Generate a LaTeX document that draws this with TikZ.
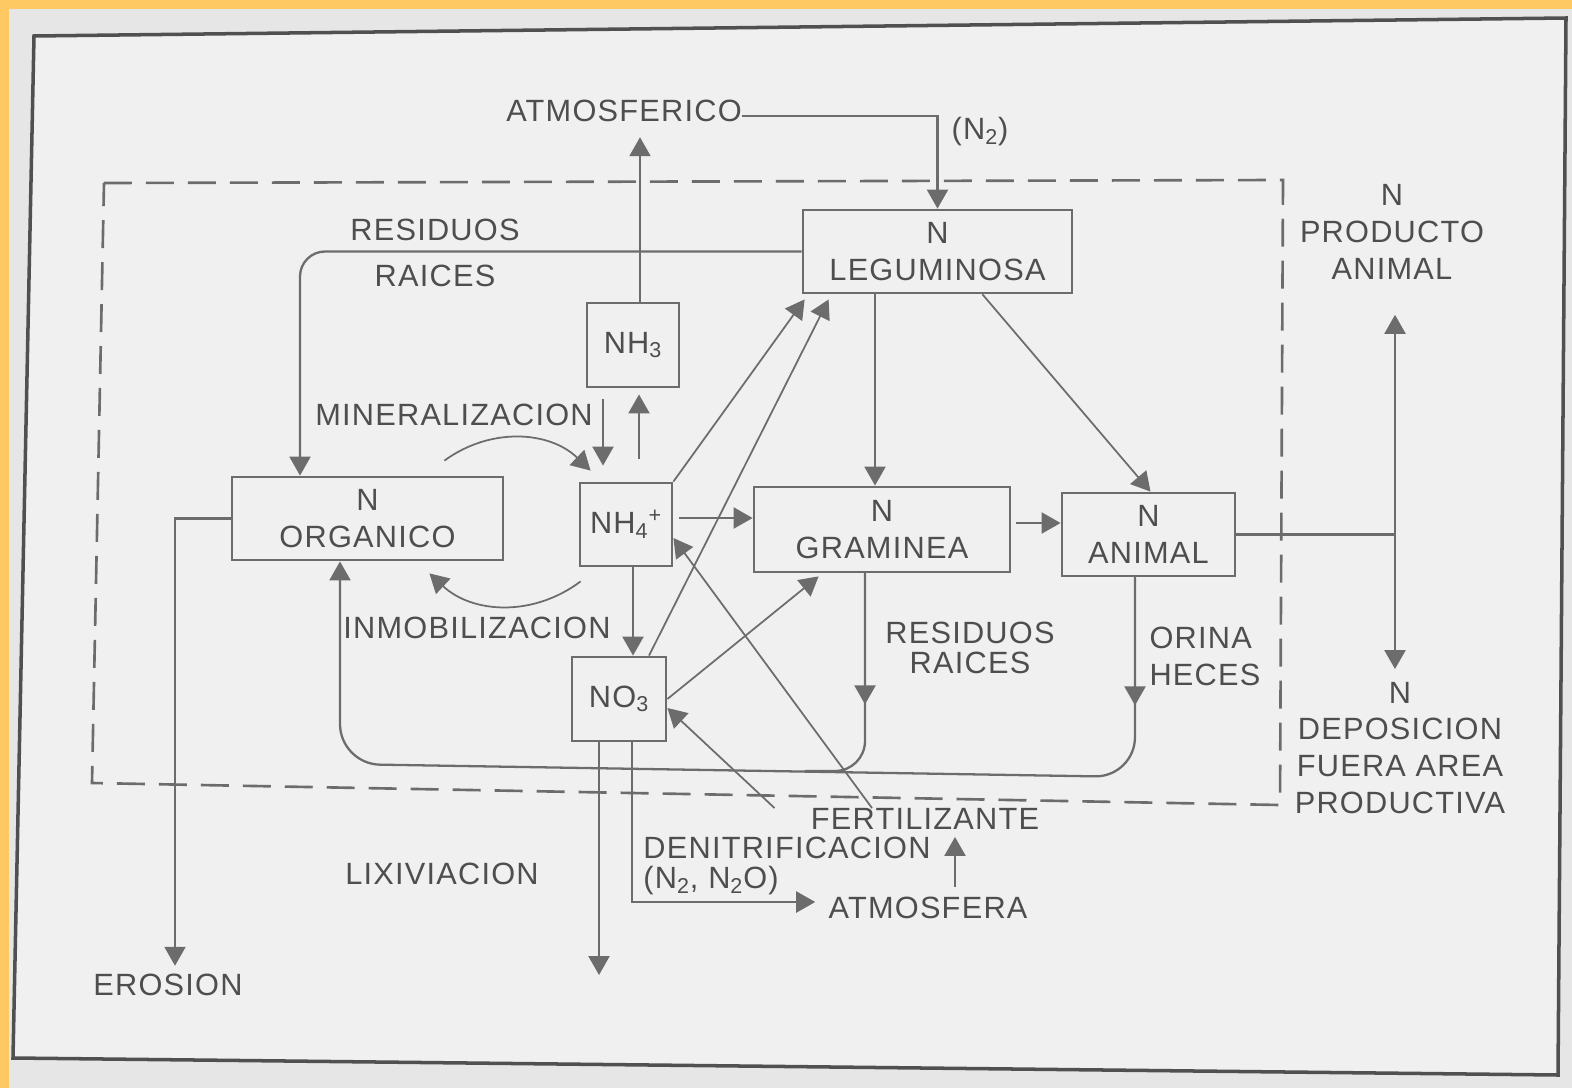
\documentclass[tikz,border=0pt]{standalone}
\usepackage{fontspec}
\setmainfont{Liberation Sans}[LetterSpace=4]
\usetikzlibrary{arrows.meta}
\definecolor{ylw}{RGB}{254,200,98}
\definecolor{papr}{RGB}{230,230,230}
\definecolor{lpapr}{RGB}{240,240,240}
\definecolor{dgry}{RGB}{108,108,108}
\definecolor{fgry}{RGB}{80,80,80}
\definecolor{tgry}{RGB}{78,78,78}
\tikzstyle{box}=[draw=dgry, line width=1.6pt, inner sep=0pt, align=center, text=tgry]
\tikzstyle{lbl}=[inner sep=0pt, align=center, text=tgry]
\tikzstyle{link}=[draw=dgry, line width=1.3pt]
\tikzstyle{flow}=[link, -{Triangle[length=0.38cm,width=0.42cm]}]
\tikzstyle{thin flow}=[flow, line width=1pt]

\begin{document}
\begin{tikzpicture}[x=0.02cm, y=-0.02cm,
    font=\fontsize{17.5}{21}\selectfont,
    area/.style={draw=dgry, line width=1.5pt, dash pattern=on 0.56cm off 0.28cm},
]
    \useasboundingbox (0,0) rectangle (1572,1088);
    % photo and page frame
    \fill[papr] (0,0) rectangle (1572,1088);
    \fill[ylw] (0,0) rectangle (1572,9);
    \fill[ylw] (0,0) rectangle (9,1088);
    \fill[lpapr] (34,36) -- (1566,18) -- (1558,1075) -- (13,1058) -- cycle;
    \draw[fgry, line width=2pt] (34,36) -- (1566,18) -- (1558,1075) -- (13,1058) -- cycle;
    % productive area
    \draw[area] (104,183) -- (1283,180) -- (1280,805) -- (92,783) -- cycle;

    % pools
    \node[box, minimum width=5.38cm, minimum height=1.66cm] (leg) at (937.5,251.5) {N\\LEGUMINOSA};
    \node[box, minimum width=1.84cm, minimum height=1.68cm] (nh3) at (633,345) {NH\textsubscript{3}};
    \node[box, minimum width=1.84cm, minimum height=1.66cm] (nh4) at (626,524.5) {NH\textsubscript{4}\textsuperscript{+}};
    \node[box, minimum width=5.42cm, minimum height=1.66cm] (org) at (367.5,518.5) {N\\ORGANICO};
    \node[box, minimum width=5.12cm, minimum height=1.7cm] (gra) at (882,529.5) {N\\GRAMINEA};
    \node[box, minimum width=3.46cm, minimum height=1.66cm] (ani) at (1148.5,534.5) {N\\ANIMAL};
    \node[box, minimum width=1.88cm, minimum height=1.68cm] (no3) at (619,699) {NO\textsubscript{3}};

    % labels
    \node[lbl] (atmo) at (624,111) {ATMOSFERICO};
    \node[lbl] (n2) at (980,132) {(N\textsubscript{2})};
    \node[lbl] (resl) at (435,253) {RESIDUOS\\[5pt]RAICES};
    \node[lbl] (miner) at (454,415) {MINERALIZACION};
    \node[lbl] (inmob) at (477,628) {INMOBILIZACION};
    \node[lbl] (resg) at (970,648) {RESIDUOS\\[-3.5pt]RAICES};
    \node[lbl, align=left] (orina) at (1205,656) {ORINA\\HECES};
    \node[lbl] (prod) at (1392,232) {N\\PRODUCTO\\ANIMAL};
    \node[lbl] (depo) at (1400,748) {N\\DEPOSICION\\FUERA AREA\\PRODUCTIVA};
    \node[lbl] (lixi) at (442,874) {LIXIVIACION};
    \node[lbl] (eros) at (168,985) {EROSION};
    \node[lbl, align=left] (denit) at (787,866) {DENITRIFICACION\\[-4pt](N\textsubscript{2}, N\textsubscript{2}O)};
    \node[lbl] (atmos) at (928,908) {ATMOSFERA};
    \node[lbl] (fert) at (925,819) {FERTILIZANTE};

    \coordinate (lix) at (599,975);
    \coordinate (junc) at (1395,535);
    \coordinate (resb) at (865,771);
    \coordinate (orib) at (1135,777);
    \coordinate (orgb) at (340,764);

    % fixation and volatilisation
    \draw[flow] ([yshift=-0.1cm]atmo.east) -| (leg.north);
    \draw[flow, shorten >=0.3cm] ([xshift=0.14cm]nh3.north) -- ([xshift=0.14cm]nh3.north |- atmo.south);
    \draw[flow, rounded corners=0.5cm] (leg.west) -| ([xshift=-1.35cm]org.north);

    % soil cycle
    \draw[thin flow] ([shift={(-1.2cm,0.3cm)}]org.north east) to[bend left=40] ([shift={(0.24cm,0.22cm)}]nh4.north west);
    \draw[thin flow] ([shift={(0.04cm,-0.28cm)}]nh4.south west) to[bend left=40] ([shift={(-1.5cm,-0.24cm)}]org.south east);
    \draw[flow, shorten <=0.22cm, shorten >=0.32cm] ([xshift=-0.6cm]nh3.south) -- ([xshift=-0.6cm]nh3.south |- nh4.north);
    \draw[flow, shorten <=0.46cm, shorten >=0.12cm] ([xshift=0.26cm]nh4.north) -- ([xshift=0.26cm]nh4.north |- nh3.south);
    \draw[flow] ([xshift=0.14cm]nh4.south) -- ([xshift=0.14cm]nh4.south |- no3.north);

    % uptake
    \draw[flow, shorten <=0.12cm] ([yshift=0.13cm]nh4.east) -- ([yshift=0.13cm]nh4.east -| gra.west);
    \draw[thin flow] (nh4.north east) -- ([shift={(0.06cm,-0.1cm)}]leg.south west);
    \draw[thin flow] ([xshift=0.6cm]no3.north) -- ([shift={(0.54cm,-0.1cm)}]leg.south west);
    \draw[thin flow] (no3.east) -- ([shift={(1.32cm,-0.06cm)}]gra.south west);

    % fertiliser
    \draw[thin flow] ([xshift=-0.72cm]fert.north west) -- ([yshift=-0.18cm]no3.east);
    \draw[thin flow] ([xshift=-1.06cm]fert.north) -- ([yshift=-0.27cm]nh4.east);
    \draw[flow, shorten <=0.2cm, shorten >=0.14cm] ([xshift=0.54cm]atmos.north) -- ([xshift=0.54cm]atmos.north |- fert.south);

    % losses
    \draw[flow, shorten >=0.26cm] ([xshift=0.26cm]no3.south) |- ([yshift=0.12cm]atmos.west);
    \draw[flow] (no3.south -| lix) -- (lix);
    \draw[flow, shorten >=0.16cm] (org.west) -| ([xshift=0.14cm]eros.north);

    % plants and animals
    \draw[flow] ([xshift=-1.25cm]leg.south) -- ([xshift=-1.25cm]leg.south |- gra.north);
    \draw[thin flow] ([xshift=0.9cm]leg.south) -- ([xshift=0.04cm]ani.north);
    \draw[flow, shorten <=0.1cm] ([yshift=0.13cm]gra.east) -- ([yshift=0.13cm]gra.east -| ani.west);

    % returns to the soil
    \draw[flow] (gra.south -| resb) -- ++(0,131);
    \draw[link, rounded corners=0.6cm] (gra.south -| resb) -- (resb) -- ++(-60,0);
    \draw[flow] (ani.south -| orib) -- ++(0,128);
    \draw[flow, rounded corners=0.8cm] (ani.south -| orib) -- (orib) -- (orgb) -- (org.south -| orgb);

    % exports
    \draw[link] (ani.east) -- (ani.east -| junc);
    \draw[flow, shorten >=0.7cm] (ani.east -| junc) -- (junc |- prod.south);
    \draw[flow, shorten >=0.25cm] (ani.east -| junc) -- (junc |- depo.north);
\end{tikzpicture}
\end{document}
